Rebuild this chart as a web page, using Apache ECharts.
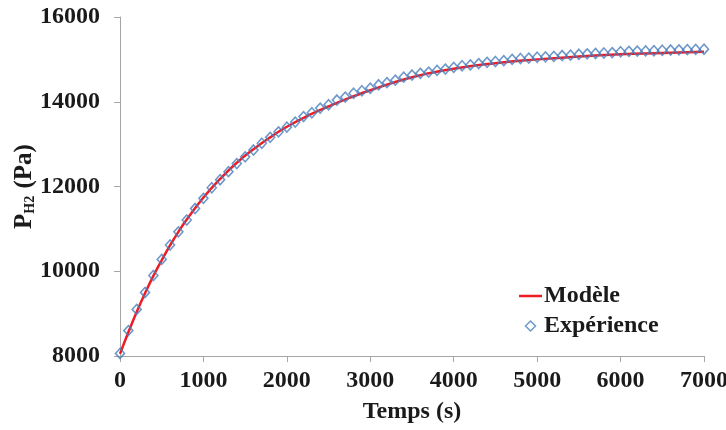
<!DOCTYPE html>
<html>
<head>
<meta charset="utf-8">
<script src="https://cdn.jsdelivr.net/npm/echarts@6/dist/echarts.min.js"></script>
<style>
html,body{margin:0;padding:0;background:#fff;}
#chart{width:726px;height:430px;}
</style>
</head>
<body>
<div id="chart"></div>
<script>
// Experimental data: time (s) and P_H2 (Pa), every 100 s
var expTimes = [0,100,200,300,400,500,600,700,800,900,1000,1100,1200,1300,1400,1500,1600,1700,1800,1900,2000,2100,2200,2300,2400,2500,2600,2700,2800,2900,3000,3100,3200,3300,3400,3500,3600,3700,3800,3900,4000,4100,4200,4300,4400,4500,4600,4700,4800,4900,5000,5100,5200,5300,5400,5500,5600,5700,5800,5900,6000,6100,6200,6300,6400,6500,6600,6700,6800,6900,7000];
var expValues = [8060,8600,9100,9500,9900,10280,10620,10930,11210,11480,11720,11970,12160,12350,12540,12700,12860,13020,13160,13290,13400,13520,13650,13740,13850,13930,14040,14110,14200,14260,14320,14400,14450,14510,14580,14630,14670,14700,14740,14770,14810,14850,14870,14900,14930,14950,14970,15000,15020,15030,15050,15060,15070,15090,15100,15120,15130,15140,15150,15160,15180,15190,15195,15200,15205,15215,15220,15225,15230,15235,15240];
// Model curve
var modelTimes = [0,100,200,300,400,500,600,700,800,1000,1200,1400,1600,1800,2000,2250,2500,2750,3000,3500,4000,4500,5000,5500,6000,6500,7000];
var modelValues = [8050,8560,9040,9480,9890,10260,10610,10930,11220,11740,12180,12560,12880,13160,13410,13670,13890,14090,14270,14580,14780,14910,15000,15070,15120,15150,15180];
var xTicks = [0,1000,2000,3000,4000,5000,6000,7000];
var yTicks = [8000,10000,12000,14000,16000];

var FONT = 'Liberation Serif';
var TXT = '#1a1a1a';
var chart = echarts.init(document.getElementById('chart'), null, {renderer:'canvas'});
chart.setOption({
  animation:false,
  backgroundColor:'#fff',
  grid:{left:120,right:22,top:17,bottom:74,containLabel:false,outerBoundsMode:'none'},
  legend:{
    orient:'vertical', left:514, top:279, itemGap:6, itemWidth:23, itemHeight:10,
    textStyle:{fontFamily:FONT,fontWeight:'bold',fontSize:24,color:TXT,padding:[0,0,0,-3]},
    data:[
      {name:'Modèle', icon:'path://M0,0 L24,0 L24,2.6 L0,2.6 Z'},
      {name:'Expérience', icon:'path://M5,0 L10,5 L5,10 L0,5 Z',
       itemStyle:{color:'#ffffff',borderColor:'#4a7ebb',borderWidth:1.5}}
    ]
  },
  xAxis:{
    type:'value', min:xTicks[0], max:xTicks[xTicks.length-1], interval:1000,
    name:'Temps (s)', nameLocation:'middle', nameGap:44,
    nameTextStyle:{fontFamily:FONT,fontWeight:'bold',fontSize:24,color:TXT},
    axisLine:{lineStyle:{color:'#a6a6a6',width:1}},
    axisTick:{show:true,length:6,lineStyle:{color:'#a6a6a6'}},
    axisLabel:{fontFamily:FONT,fontWeight:'bold',fontSize:24,color:TXT,margin:13,formatter:function(v){return String(v);}},
    splitLine:{show:false}
  },
  yAxis:{
    type:'value', min:yTicks[0], max:yTicks[yTicks.length-1], interval:2000,
    name:'{b|P}{s|H2}{b| (Pa)}', nameLocation:'middle', nameGap:83, nameRotate:90,
    nameMoveOverlap:false,
    nameTextStyle:{
      rich:{
        b:{fontFamily:FONT,fontWeight:'bold',fontSize:25,color:TXT,verticalAlign:'bottom'},
        s:{fontFamily:FONT,fontWeight:'bold',fontSize:14,color:TXT,verticalAlign:'bottom',padding:[0,1,0,0]}
      }
    },
    axisLine:{show:true,lineStyle:{color:'#a6a6a6',width:1}},
    axisTick:{show:true,length:6,lineStyle:{color:'#a6a6a6'}},
    axisLabel:{fontFamily:FONT,fontWeight:'bold',fontSize:24,color:TXT,margin:20,formatter:function(v){return String(v);}},
    splitLine:{show:false}
  },
  series:[
    {
      name:'Modèle', type:'line', smooth:true, symbol:'none', z:2,
      lineStyle:{color:'#ee1c25',width:2.5},
      itemStyle:{color:'#ee1c25'},
      data:modelTimes.map(function(t,i){return [t,modelValues[i]];})
    },
    {
      name:'Expérience', type:'scatter', symbol:'diamond', symbolSize:[9,10], z:3,
      itemStyle:{color:'rgba(255,255,255,0)',borderColor:'#4a7ebb',borderWidth:1.6},
      data:expTimes.map(function(t,i){return [t,expValues[i]];})
    }
  ]
});
</script>
</body>
</html>
